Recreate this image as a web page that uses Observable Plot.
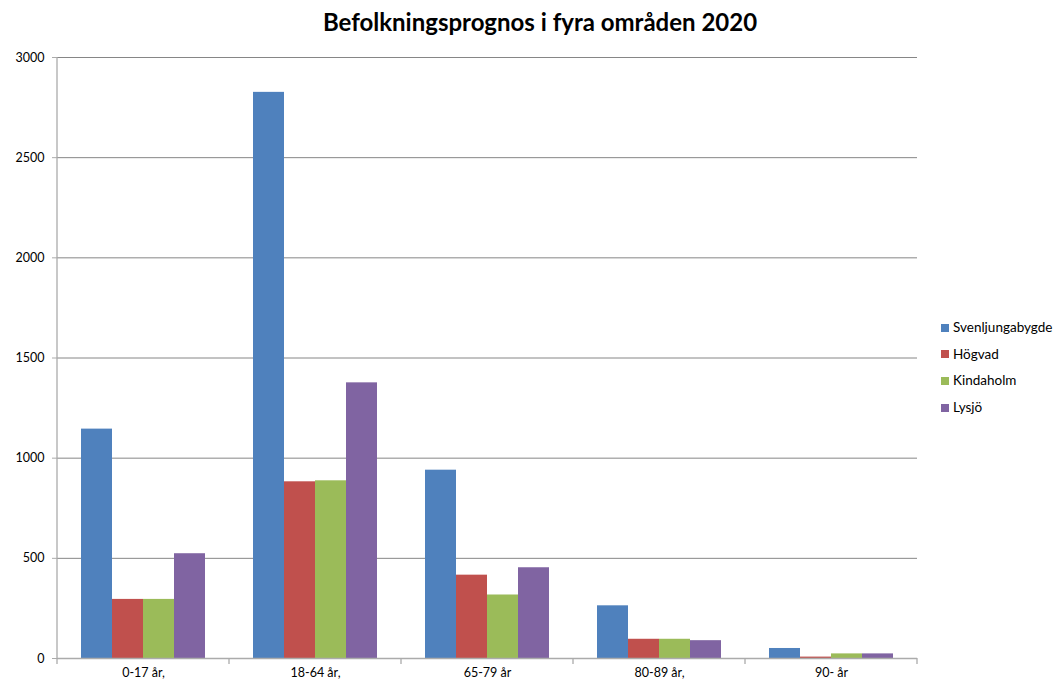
<!DOCTYPE html>
<html>
<head>
<meta charset="utf-8">
<script src="https://cdn.jsdelivr.net/npm/d3@7"></script>
<script src="https://cdn.jsdelivr.net/npm/@observablehq/plot@0.6"></script>
<style>
  body { margin: 0; background: #fff; font-family: Lato, "Open Sans", sans-serif; }
  #wrap { position: relative; width: 1055px; height: 689px; overflow: hidden; }
  #title { position: absolute; left: 0; top: 7px; width: 1080px; text-align: center;
           font-weight: bold; font-size: 24px; line-height: 30px; color: #000; }
  #chart { position: absolute; left: 0; top: 45px; }
  #legend { position: absolute; left: 941px; top: 314px; font-size: 13.5px; color: #000; }
  .row { height: 26.7px; line-height: 26.7px; white-space: nowrap; }
  .sw { display: inline-block; width: 8px; height: 8px; margin-right: 4px; vertical-align: middle; position: relative; top: -1px; }
</style>
</head>
<body>
<div id="wrap">
  <div id="title">Befolkningsprognos i fyra områden 2020</div>
  <div id="chart"></div>
  <div id="legend"></div>
</div>
<script>
const categories = ["0-17 år,", "18-64 år,", "65-79 år", "80-89 år,", "90- år"];
const series = ["Svenljungabygde", "Högvad", "Kindaholm", "Lysjö"];
const svenljungabygde = [1145, 2826, 940, 263, 50];
const hogvad = [295, 882, 416, 96, 7];
const kindaholm = [295, 887, 317, 96, 23];
const lysjo = [523, 1376, 453, 89, 23];
const colors = ["#4F81BD", "#C0504D", "#9BBB59", "#8064A2"];
const yTicks = [0, 500, 1000, 1500, 2000, 2500, 3000];

const seriesValues = [svenljungabygde, hogvad, kindaholm, lysjo];
const data = [];
categories.forEach((c, i) => {
  series.forEach((s, j) => data.push({cat: c, series: s, value: seriesValues[j][i]}));
});

const plot = Plot.plot({
  width: 1055,
  height: 644,
  marginTop: 12,
  marginBottom: 31,
  marginLeft: 55,
  marginRight: 137,
  style: {fontFamily: "Lato, 'Open Sans', sans-serif", fontSize: "12.5px", color: "#000", background: "transparent"},
  fx: {domain: categories, padding: 0, label: null, axis: null},
  x: {domain: series, paddingInner: 0, paddingOuter: 0.76, axis: null},
  y: {domain: [0, 3000], axis: null},
  color: {domain: series, range: colors},
  marks: [
    Plot.gridY(yTicks.filter(d => d > 0), {stroke: "#868686", strokeOpacity: 1}),
    Plot.barY(data, {fx: "cat", x: "series", y: "value", fill: "series", inset: 0}),
    Plot.ruleY([0], {stroke: "#ABABAB", strokeWidth: 1.3}),
    Plot.axisY(yTicks, {tickSize: 5, tickPadding: 8, label: null, tickFormat: d => String(d), stroke: "#ABABAB", fontSize: 12.5, fill: "#000"}),
    Plot.axisFx({anchor: "bottom", tickSize: 0, tickPadding: 10, label: null, fontSize: 12.5, fill: "#000"})
  ]
});
document.getElementById("chart").appendChild(plot);

// axis lines and category boundary ticks drawn from the plot's own scales
const fx = plot.scale("fx");
const ys = plot.scale("y");
const y0 = ys.apply(0), yTop = ys.apply(3000);
const edges = categories.map(c => fx.apply(c));
edges.push(fx.apply(categories[categories.length - 1]) + fx.bandwidth);
const svg = d3.select(plot);
const g = svg.append("g").attr("stroke", "#ABABAB").attr("stroke-width", 1.3);
g.append("line").attr("x1", edges[0]).attr("x2", edges[0]).attr("y1", yTop).attr("y2", y0 + 6);
edges.slice(1).forEach(x => {
  g.append("line").attr("x1", x).attr("x2", x).attr("y1", y0).attr("y2", y0 + 6);
});

const legend = d3.select("#legend");
series.forEach((s, i) => {
  const row = legend.append("div").attr("class", "row");
  row.append("span").attr("class", "sw").style("background", colors[i]);
  row.append("span").text(s);
});
</script>
</body>
</html>
